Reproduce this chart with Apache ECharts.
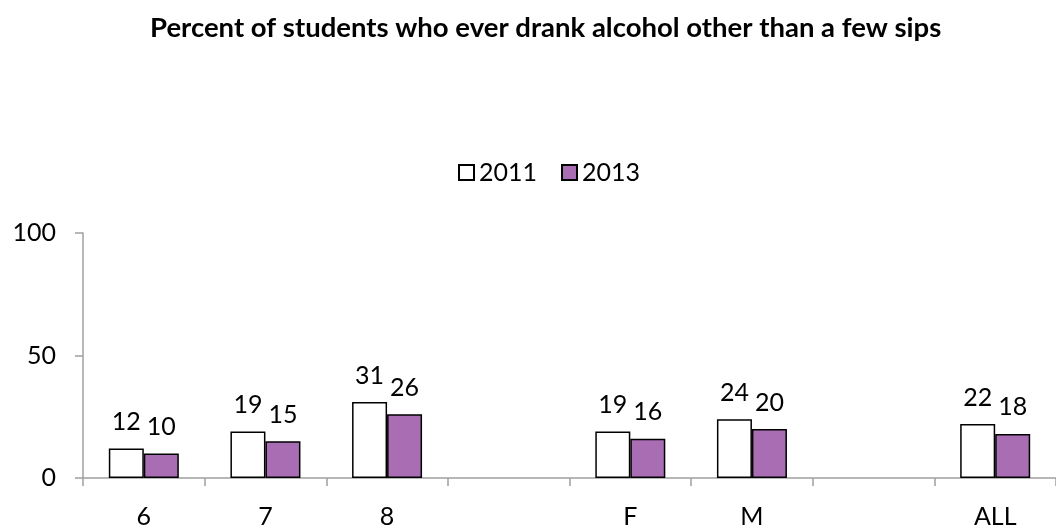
<!DOCTYPE html>
<html><head><meta charset="utf-8">
<script src="https://cdn.jsdelivr.net/npm/echarts@6/dist/echarts.min.js"></script>
<style>html,body{margin:0;padding:0;background:#fff}#c{width:1056px;height:529px}</style>
</head><body><div id="c"></div>
<script>
const categories = ['6', '7', '8', '', 'F', 'M', '', 'ALL'];
const series2011 = [12, 19, 31, null, 19, 24, null, 22];
const series2013 = [10, 15, 26, null, 16, 20, null, 18];
const yTicks = [0, 50, 100];
const titleText = 'Percent of students who ever drank alcohol other than a few sips';

const font = 'Lato, "Open Sans", sans-serif';
const chart = echarts.init(document.getElementById('c'));
const labelCfg = {show: true, position: 'top', distance: 14, color: '#000', fontSize: 25, fontFamily: font};
chart.setOption({
  animation: false,
  title: {text: titleText, left: 145, top: 9,
    textStyle: {fontSize: 27.5, fontWeight: 'bold', color: '#000', fontFamily: font}},
  legend: {top: 155, left: 453, icon: 'rect', itemWidth: 15, itemHeight: 15, itemGap: 24,
    textStyle: {fontSize: 25, color: '#000', fontFamily: font}, data: ['2011', '2013']},
  grid: {left: 83, right: -5, top: 233, bottom: 50, containLabel: false},
  xAxis: {type: 'category', data: categories,
    axisLine: {lineStyle: {color: '#a0a0a0', width: 1.5}},
    axisTick: {show: true, length: 8, lineStyle: {color: '#a0a0a0', width: 1.5}},
    axisLabel: {color: '#000', fontSize: 25, fontFamily: font, margin: 26}},
  yAxis: {type: 'value', min: yTicks[0], max: yTicks[yTicks.length - 1], interval: 50,
    axisLine: {show: true, lineStyle: {color: '#a0a0a0', width: 1.5}},
    axisTick: {show: true, length: 8, lineStyle: {color: '#a0a0a0', width: 1.5}},
    splitLine: {show: false},
    axisLabel: {color: '#000', fontSize: 25, fontFamily: font, margin: 27, padding: [6, 0, 0, 0]}},
  series: [
    {name: '2011', type: 'bar', data: series2011, barWidth: 35, barGap: '0%',
      itemStyle: {color: '#ffffff', borderColor: '#000', borderWidth: 1.5}, label: labelCfg},
    {name: '2013', type: 'bar', data: series2013, barWidth: 35,
      itemStyle: {color: '#a96db3', borderColor: '#000', borderWidth: 1.5}, label: labelCfg}
  ]
});
</script></body></html>
